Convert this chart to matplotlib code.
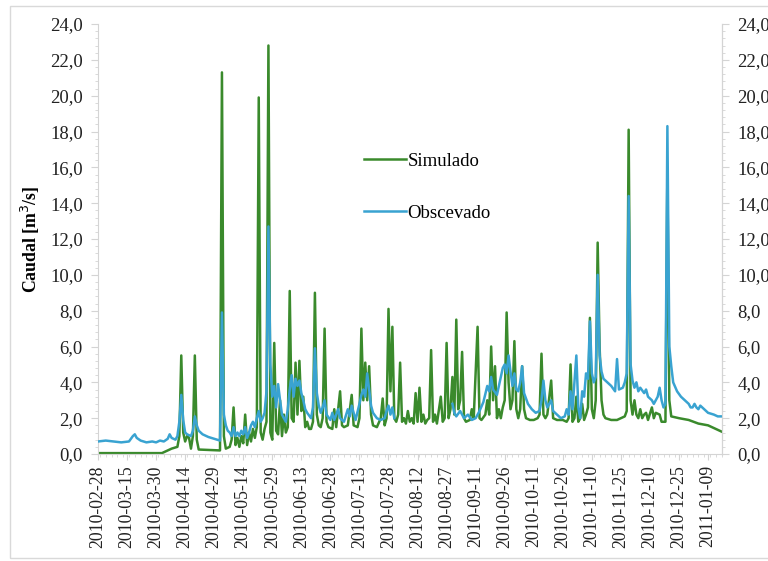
import numpy as np
import pandas as pd
import matplotlib
matplotlib.use("Agg")
from matplotlib import pyplot as plt
from matplotlib import dates as mdates
from matplotlib.ticker import FuncFormatter, MultipleLocator
from matplotlib.patches import Rectangle

plt.rcParams["font.family"] = ["Liberation Serif", "DejaVu Serif"]

START = pd.Timestamp("2010-02-28")

# Simulado: days since 2010-02-28 and flow [m3/s]
sim_day = [0, 33, 35, 38, 41, 42, 43, 44, 45, 46, 47, 48, 49, 50, 51, 52, 63, 64, 65, 66,
           68, 69, 70, 71, 72, 73, 74, 75, 76, 77, 78, 79, 80, 81, 82, 83, 84, 85, 86, 87,
           88, 89, 90, 91, 92, 93, 94, 95, 96, 97, 98, 99, 100, 101, 102, 103, 104, 105, 106, 107,
           108, 109, 110, 111, 112, 113, 114, 115, 116, 117, 118, 119, 121, 122, 123, 125, 126, 127, 129, 131,
           132, 134, 135, 136, 137, 138, 139, 140, 141, 142, 144, 146, 147, 148, 149, 150, 151, 152, 153, 154,
           155, 156, 157, 158, 159, 160, 161, 162, 163, 164, 165, 166, 167, 168, 169, 170, 171, 172, 173, 174,
           175, 177, 178, 179, 180, 181, 182, 183, 184, 185, 186, 187, 188, 189, 190, 192, 193, 194, 196, 197,
           198, 200, 201, 202, 203, 204, 205, 206, 207, 208, 209, 210, 211, 212, 213, 214, 215, 216, 217, 218,
           219, 220, 221, 223, 225, 227, 228, 229, 230, 231, 232, 234, 235, 237, 240, 242, 243, 244, 245, 246,
           247, 248, 249, 250, 251, 252, 253, 254, 255, 256, 257, 258, 259, 260, 261, 262, 265, 268, 270, 272,
           273, 274, 275, 276, 277, 278, 279, 280, 281, 282, 283, 284, 286, 287, 288, 290, 291, 293, 294, 295,
           296, 300, 305, 310, 315, 319, 322]
sim_val = [0.05, 0.05, 0.15, 0.3, 0.4, 1.0, 5.5, 1.2, 0.7, 1.0, 0.9, 0.3, 1.0, 5.5, 0.8, 0.25, 0.2, 21.3, 1.0, 0.3,
           0.4, 0.8, 2.6, 0.5, 0.9, 0.4, 1.0, 0.6, 2.2, 0.5, 1.2, 0.7, 1.4, 0.9, 1.5, 19.9, 1.2, 0.8, 1.4, 1.8,
           22.8, 1.2, 0.8, 6.2, 1.3, 1.1, 3.0, 1.0, 2.2, 1.2, 1.5, 9.1, 2.0, 1.8, 5.1, 2.2, 5.2, 2.4, 3.2, 1.5,
           1.8, 1.4, 1.4, 1.8, 9.0, 2.2, 1.6, 1.5, 2.0, 7.0, 1.8, 1.5, 1.4, 2.5, 1.5, 3.5, 1.6, 1.5, 1.6, 3.3,
           1.6, 1.5, 2.0, 7.0, 3.0, 5.1, 3.0, 4.9, 2.2, 1.6, 1.5, 2.0, 3.1, 1.6, 2.0, 8.1, 3.5, 7.1, 2.0, 1.8,
           2.2, 5.1, 1.8, 2.0, 1.7, 2.4, 1.8, 2.0, 1.7, 3.4, 1.8, 3.7, 1.8, 2.2, 1.7, 1.9, 2.0, 5.8, 1.8, 2.2,
           1.7, 3.2, 1.8, 2.0, 6.2, 2.0, 2.5, 4.3, 2.2, 7.5, 2.5, 3.0, 5.7, 2.0, 1.8, 1.9, 2.5, 2.0, 7.1, 2.0,
           1.9, 2.2, 3.0, 2.2, 6.0, 3.0, 4.9, 2.0, 2.5, 2.0, 2.6, 3.0, 7.9, 4.0, 2.5, 3.0, 6.3, 2.5, 2.0, 2.5,
           4.9, 2.5, 2.0, 1.9, 1.9, 2.0, 2.2, 5.6, 2.2, 2.0, 2.2, 4.1, 2.0, 1.9, 1.9, 1.8, 2.0, 5.0, 1.8, 2.0,
           3.2, 1.8, 2.0, 2.8, 1.9, 2.2, 2.6, 7.6, 2.5, 2.0, 3.0, 11.8, 6.0, 3.0, 2.2, 2.0, 1.9, 1.9, 2.0, 2.1,
           2.4, 18.1, 3.0, 2.2, 3.0, 2.2, 2.0, 2.5, 2.0, 2.2, 2.3, 1.9, 2.6, 2.0, 2.3, 2.2, 1.8, 1.8, 15.8, 3.0,
           2.1, 2.0, 1.9, 1.7, 1.6, 1.4, 1.25]

# Obscevado: days since 2010-02-28 and flow [m3/s] (no record in August)
obs_day = [0, 4, 8, 12, 16, 18, 19, 20, 22, 25, 28, 30, 32, 34, 36, 37, 38, 40, 41, 42,
           43, 44, 45, 46, 48, 49, 50, 51, 52, 54, 57, 60, 63, 64, 65, 66, 67, 68, 69, 70,
           71, 72, 73, 74, 75, 76, 77, 78, 79, 80, 81, 82, 83, 84, 85, 86, 87, 88, 89, 90,
           91, 92, 93, 94, 95, 96, 97, 98, 99, 100, 101, 102, 103, 104, 105, 106, 107, 108, 110, 111,
           112, 113, 114, 115, 116, 117, 118, 120, 121, 122, 124, 125, 127, 129, 130, 131, 132, 133, 135, 136,
           137, 138, 139, 140, 141, 142, 144, 146, 148, 149, 150, 151, 152, 153, 168, 183, 184, 185, 187, 189,
           191, 193, 195, 197, 199, 201, 202, 203, 204, 206, 207, 209, 210, 211, 212, 213, 214, 215, 216, 217,
           218, 219, 220, 222, 224, 226, 228, 229, 230, 231, 232, 234, 235, 237, 239, 241, 242, 243, 244, 245,
           247, 248, 249, 250, 251, 252, 253, 254, 255, 256, 257, 258, 259, 260, 261, 263, 265, 267, 268, 269,
           271, 272, 273, 274, 275, 276, 277, 278, 279, 280, 282, 283, 284, 286, 287, 289, 290, 291, 292, 293,
           294, 295, 296, 297, 299, 301, 303, 305, 306, 307, 308, 309, 310, 311, 312, 313, 315, 318, 320, 322]
obs_val = [0.7, 0.75, 0.7, 0.65, 0.7, 1.0, 1.1, 0.9, 0.75, 0.65, 0.7, 0.65, 0.75, 0.7, 0.85, 1.1, 0.9, 0.8, 1.0, 1.8,
           3.3, 1.9, 1.2, 1.1, 1.0, 1.3, 2.1, 1.6, 1.3, 1.1, 0.95, 0.85, 0.75, 7.9, 2.2, 1.6, 1.3, 1.2, 1.0, 1.5,
           1.0, 1.2, 1.0, 1.3, 1.1, 1.5, 0.9, 1.2, 1.6, 1.8, 1.5, 2.0, 2.4, 1.8, 2.0, 2.3, 3.5, 12.7, 5.0, 3.2,
           3.8, 2.6, 3.9, 3.0, 2.2, 2.0, 1.8, 2.5, 3.6, 4.4, 3.2, 4.2, 3.8, 4.1, 3.4, 3.0, 2.5, 2.3, 2.0, 2.6,
           5.9, 3.4, 2.7, 2.3, 2.6, 3.0, 2.2, 1.9, 2.3, 1.9, 2.5, 2.0, 1.8, 2.5, 2.1, 2.7, 2.3, 1.9, 2.8, 3.3,
           3.6, 3.2, 4.5, 3.6, 2.7, 2.3, 2.0, 1.9, 2.0, 2.4, 2.7, 2.2, 2.6, 2.0, np.nan, 2.8, 2.3, 2.1, 2.4, 2.0,
           2.2, 1.9, 2.0, 2.4, 2.9, 3.8, 3.5, 4.3, 3.6, 3.3, 3.8, 4.8, 5.0, 4.5, 5.5, 4.6, 3.8, 4.5, 3.6, 3.5,
           4.0, 4.9, 3.4, 2.8, 2.5, 2.3, 2.4, 3.0, 4.1, 3.0, 2.6, 3.0, 2.4, 2.2, 2.0, 2.1, 2.5, 2.2, 3.5, 2.5,
           5.5, 2.6, 2.0, 3.5, 3.2, 4.5, 4.2, 7.4, 4.5, 4.0, 4.3, 10.0, 5.5, 4.6, 4.2, 4.0, 3.8, 3.5, 5.3, 3.6,
           3.7, 4.0, 4.5, 14.4, 5.0, 4.1, 3.7, 4.0, 3.5, 3.7, 3.4, 3.6, 3.2, 3.0, 2.8, 3.2, 3.7, 3.0, 2.6, 2.8,
           18.3, 6.0, 4.9, 4.0, 3.5, 3.2, 3.0, 2.8, 2.6, 2.6, 2.8, 2.6, 2.5, 2.7, 2.6, 2.5, 2.3, 2.2, 2.1, 2.1]

labels = ["Simulado", "Obscevado"]
sim_color = "#3a8a2c"
obs_color = "#39a3d1"
axis_grey = "#d4d4d4"

sim_dates = START + pd.to_timedelta(sim_day, unit="D")
obs_dates = START + pd.to_timedelta(obs_day, unit="D")

fig = plt.figure(figsize=(7.68, 5.61), dpi=100)
ax = fig.add_axes([0.1276, 0.1907, 0.8125, 0.7665])

# chart area border
fig.patches.append(Rectangle((10 / 768, 3 / 561), 1.2, 552 / 561, transform=fig.transFigure,
                             fill=False, edgecolor="#d9d9d9", linewidth=1.0))

ax.plot(sim_dates, sim_val, color=sim_color, linewidth=1.8, label=labels[0], zorder=2)
ax.plot(obs_dates, obs_val, color=obs_color, linewidth=1.8, label=labels[1], zorder=3)

ax.set_ylim(0, 24)
ax.set_xlim(START, START + pd.Timedelta(days=322.2))

fmt = FuncFormatter(lambda v, p: f"{v:.1f}".replace(".", ","))
ax.yaxis.set_major_locator(MultipleLocator(2))
ax.yaxis.set_minor_locator(MultipleLocator(0.4))
ax.yaxis.set_major_formatter(fmt)

xticks = pd.date_range(START, periods=22, freq="15D")
ax.set_xticks(xticks)
ax.set_xticklabels([d.strftime("%Y-%m-%d") for d in xticks], rotation=90)
ax.xaxis.set_minor_locator(mdates.DayLocator(interval=3))

ax.spines["top"].set_visible(False)
for side in ["left", "right", "bottom"]:
    ax.spines[side].set_color(axis_grey)
    ax.spines[side].set_linewidth(0.8)

ax.tick_params(axis="y", which="major", length=5, color=axis_grey, labelsize=13.5,
               labelcolor="#222222", pad=6)
ax.tick_params(axis="y", which="minor", length=2, color=axis_grey)
ax.tick_params(axis="x", which="major", length=4, color=axis_grey, labelsize=12.8,
               labelcolor="#222222", pad=4)
ax.tick_params(axis="x", which="minor", length=2, color=axis_grey)

ax.set_ylabel("Caudal [m$^3$/s]", fontsize=12.8, fontweight="bold", labelpad=6)

ax2 = ax.twinx()
ax2.set_ylim(0, 24)
ax2.yaxis.set_major_locator(MultipleLocator(2))
ax2.yaxis.set_minor_locator(MultipleLocator(0.4))
ax2.yaxis.set_major_formatter(fmt)
for side in ["top", "left", "bottom"]:
    ax2.spines[side].set_visible(False)
ax2.spines["right"].set_color(axis_grey)
ax2.tick_params(axis="y", which="major", length=5, color=axis_grey, labelsize=13.5,
                labelcolor="#222222", pad=6)
ax2.tick_params(axis="y", which="minor", length=2, color=axis_grey)

ax.legend(loc="upper left", bbox_to_anchor=(0.40, 0.74), frameon=False, fontsize=13.5,
          handlelength=2.2, handletextpad=0.1, labelspacing=1.85)

fig.savefig("out.png", dpi=100)
